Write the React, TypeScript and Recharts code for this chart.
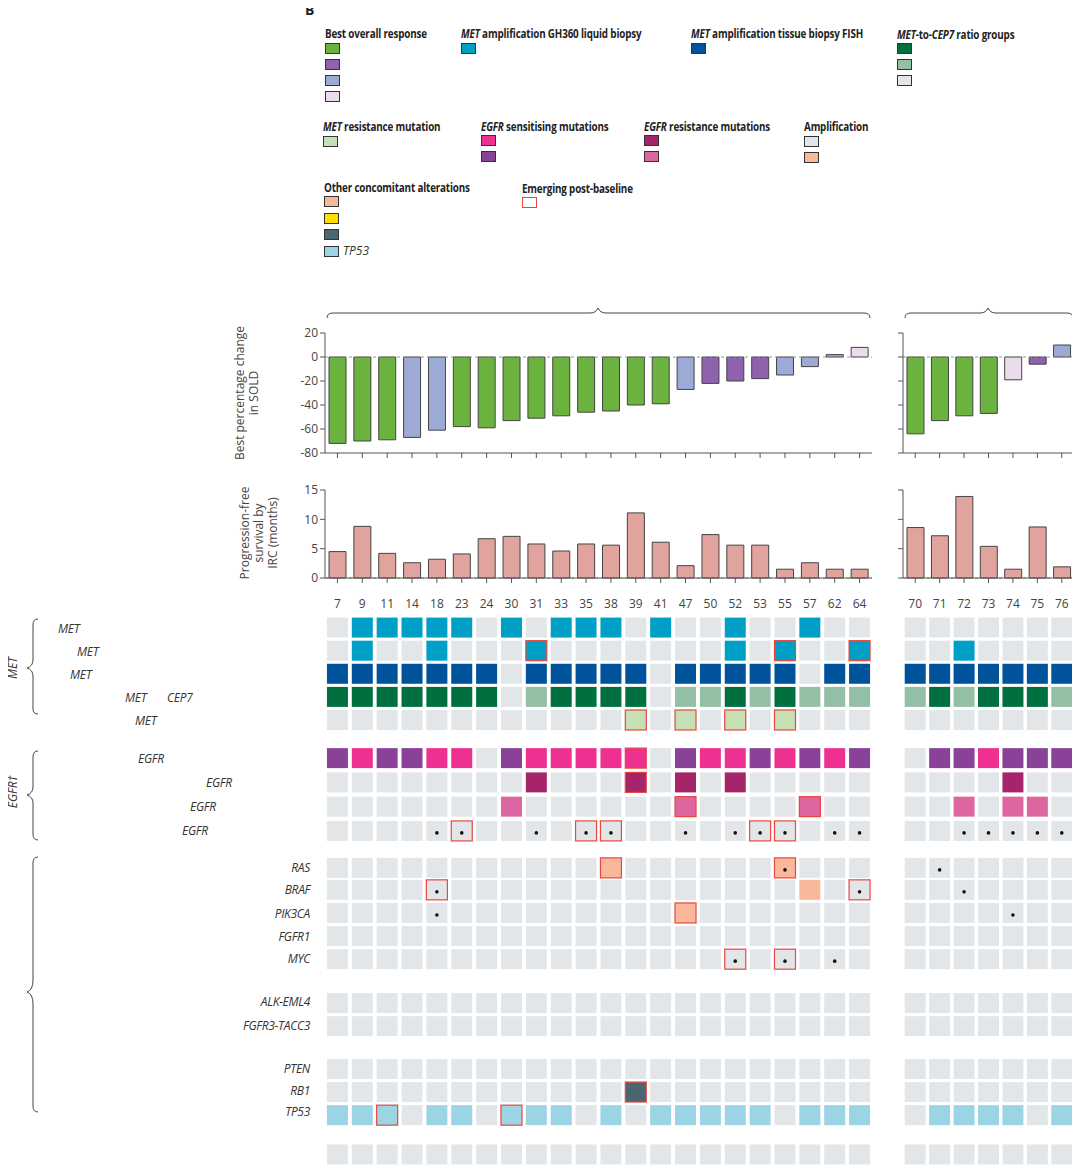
import React from 'react';
import { BarChart, Bar, XAxis, YAxis, Cell, ReferenceLine, ScatterChart, Scatter } from 'recharts';

const leftPatients = ['7','9','11','14','18','23','24','30','31','33','35','38','39','41','47','50','52','53','55','57','62','64'];
const rightPatients = ['70','71','72','73','74','75','76'];

const leftBest = [-72,-70,-69,-67,-61,-58,-59,-53,-51,-49,-46,-45,-40,-39,-27,-22,-20,-18,-15,-8,2,8];
const leftResp = ['g','g','g','b','b','g','g','g','g','g','g','g','g','g','b','p','p','p','b','b','b','w'];
const rightBest = [-64,-53,-49,-47,-19,-6,10];
const rightResp = ['g','g','g','g','w','p','b'];

const leftPfs = [4.5,8.8,4.2,2.6,3.2,4.1,6.7,7.1,5.8,4.6,5.8,5.6,11.1,6.1,2.1,7.4,5.6,5.6,1.5,2.6,1.5,1.5];
const rightPfs = [8.6,7.2,13.9,5.4,1.5,8.7,1.9];

const respColor: Record<string,string> = { g:'#6bb23f', p:'#8f62ad', b:'#9eaad6', w:'#eadcea' };

const rowPos = [0,1,2,3,4,5.65,6.7,7.75,8.8,10.4,11.35,12.35,13.35,14.35,16.25,17.25,19.1,20.1,21.1,22.8];
const leftRows = [
  '.aaaaa.a.aaa.a..a..a..',
  '.a..a...a.......a.a..a',
  'bbbbbbb.bbbbb.bbbbb.bb',
  'ggggggg.lgggg.llglglll',
  '............m.m.m.m...',
  'vpvvpp.vppppp.vppvpvpv',
  '........r...r.r.r.....',
  '.......s......s....s..',
  '......................',
  '...........o......o...',
  '...................o..',
  '..............o.......',
  '......................',
  '......................',
  '......................',
  '......................',
  '......................',
  '............d.........',
  'ttt.tt.ttt.t.ttttt.ttt',
  '......................',
];
const leftRed: number[][] = [[],[8,18,21],[],[],[12,14,16,18],[12],[12],[14,19],[5,10,11,17,18],[11,18],[4,21],[14],[],[16,18],[],[],[],[12],[2,7],[]];
const leftDots: number[][] = [[],[],[],[],[],[],[],[],[4,5,8,10,11,14,16,17,18,20,21],[18],[4,21],[4],[],[16,18,20],[],[],[],[],[],[]];
const rightRows = [
  '.......','..a....','bbbbbbb','lglgggl','.......','.vvpvvv','....r..','..s.ss.',
  '.......','.......','.......','.......','.......','.......','.......','.......','.......','.......','.tttt.t','.......',
];
const rightRed: number[][] = rightRows.map(() => []);
const rightDots: number[][] = [[],[],[],[],[],[],[],[],[2,3,4,5,6],[1],[2],[4],[],[],[],[],[],[],[],[]];

const cellColor: Record<string,string> = {
  '.':'#e3e6e9', a:'#00a0c6', b:'#00529b', g:'#00703f', l:'#93bfa5', m:'#c7dfb4',
  p:'#ee3190', v:'#8a4198', r:'#a6256a', s:'#dd65a0', o:'#f9b899', d:'#4b6672', t:'#9bd4e4',
};

const FONT = '"Open Sans", "Noto Sans", sans-serif';
const NARROW = '"Open Sans", sans-serif';

function buildCells(rows: string[], red: number[][], dots: number[][]) {
  const out: any[] = [];
  rows.forEach((r, ri) => {
    r.split('').forEach((c, ci) => {
      out.push({ x: ci, y: rowPos[ri], code: c, red: red[ri].includes(ci), dot: dots[ri].includes(ci) });
    });
  });
  return out;
}

const CellShape = (props: any) => {
  const { cx, cy, payload } = props;
  if (cx == null) return null;
  return (
    <g>
      <rect x={cx - 10.5} y={cy - 10} width={21} height={20} fill={cellColor[payload.code]}
        stroke={payload.red ? '#e8473f' : 'none'} strokeWidth={1.2} />
      {payload.dot && <circle cx={cx} cy={cy + 2} r={1.8} fill="#111" />}
    </g>
  );
};

function Heat({ patients, rows, red, dots, left, width }: any) {
  const data = buildCells(rows, red, dots);
  return (
    <div style={{ position: 'absolute', left, top: 596 }}>
      <ScatterChart width={width + 8} height={570} margin={{ top: 0, right: 8, left: 0, bottom: 0 }}>
        <XAxis type="number" dataKey="x" orientation="top" domain={[-0.5, patients.length - 0.5]}
          ticks={patients.map((_: any, i: number) => i)} tickFormatter={(v: number) => patients[v]}
          axisLine={false} tickLine={false} height={20} interval={0}
          tick={{ fontSize: 12, fill: '#444', fontFamily: FONT }} />
        <YAxis type="number" dataKey="y" domain={[-0.5, 23.3]} reversed hide />
        <Scatter data={data} shape={<CellShape />} isAnimationActive={false} />
      </ScatterChart>
    </div>
  );
}

function Bars({ patients, values, colors, left, width, yw, labels, top, height, domain, ticks, fill }: any) {
  const data = patients.map((p: string, i: number) => ({ p, v: values[i], c: colors ? colors[i] : fill }));
  return (
    <div style={{ position: 'absolute', left, top }}>
      <BarChart width={width} height={height} data={data} margin={{ top: 8, right: 0, left: 0, bottom: 0 }} barSize={17}>
        <XAxis dataKey="p" tickFormatter={() => ''} height={8} tickSize={5} stroke="#555" />
        <YAxis domain={domain} ticks={ticks} width={yw} stroke="#555" tickSize={5} interval={0}
          tickFormatter={labels ? undefined : () => ''}
          tick={{ fontSize: 12, fill: '#444', fontFamily: FONT }} />
        <ReferenceLine y={0} stroke="#8a9aa6" strokeDasharray="3 3" />
        <Bar dataKey="v" isAnimationActive={false} stroke="#444" strokeWidth={1}>
          {data.map((d: any, i: number) => <Cell key={i} fill={d.c} />)}
        </Bar>
      </BarChart>
    </div>
  );
}

const Sw = ({ x, y, c, border = '#333' }: any) => (
  <div style={{ position: 'absolute', left: x, top: y, width: 13, height: 9, background: c, border: `1px solid ${border}` }} />
);
const L = ({ x, y, children, italicPart }: any) => (
  <div style={{ position: 'absolute', left: x, top: y, fontSize: 12, fontWeight: 700, fontFamily: NARROW, color: '#222', whiteSpace: 'nowrap', transform: 'scaleX(0.82)', transformOrigin: 'left top', letterSpacing: '-0.2px' }}>
    {italicPart && <i>{italicPart}</i>}{children}
  </div>
);
const RL = ({ x, y, t, right }: any) => (
  <div style={{ position: 'absolute', left: right ? undefined : x, right: right ? 1080 - x : undefined, top: y - 8, fontSize: 12, fontStyle: 'italic', fontFamily: FONT, color: '#333', whiteSpace: 'nowrap', letterSpacing: '-0.3px' }}>{t}</div>
);

export default function App() {
  return (
    <div style={{ position: 'relative', width: 1080, height: 1176, margin: -8, background: '#fff', fontFamily: FONT, overflow: 'hidden' }}>
      <svg width={1080} height={1176} style={{ position: 'absolute', left: 0, top: 0 }} fill="none" stroke="#444" strokeWidth={1}>
        <text x={305} y={15} fill="#222" stroke="none" fontSize={14} fontWeight={700} fontFamily={NARROW}>B</text>
        <path d="M327 318 Q327 313 333 313 L590 313 Q596 313 598 308 Q600 313 606 313 L864 313 Q870 313 870 318" />
        <path d="M905 318 Q905 313 911 313 L980 313 Q986 313 988 308 Q990 313 996 313 L1067 313 Q1073 313 1073 318" />
        <path d="M38 619 Q33 619 33 625 L33 660 Q33 666 27 668 Q33 670 33 676 L33 709 Q33 714 38 714" />
        <path d="M38 751 Q33 751 33 757 L33 787 Q33 793 27 795 Q33 797 33 803 L33 834 Q33 840 38 840" />
        <path d="M38 857 Q33 857 33 863 L33 980 Q33 990 27 992 Q33 994 33 1004 L33 1106 Q33 1112 38 1112" />
      </svg>
      <L x={325} y={25}>Best overall response</L>
      {['#6bb23f','#8f62ad','#9eaad6','#eadcea'].map((c, i) => <Sw key={i} x={325} y={43 + i * 16} c={c} />)}
      <L x={461} y={25} italicPart="MET">{' amplification GH360 liquid biopsy'}</L>
      <Sw x={461} y={43} c="#00a0c6" />
      <L x={691} y={25} italicPart="MET">{' amplification tissue biopsy FISH'}</L>
      <Sw x={691} y={43} c="#00529b" />
      <L x={897} y={26} italicPart="MET">-to-<i>CEP7</i> ratio groups</L>
      {['#00703f','#93bfa5','#e3e6e9'].map((c, i) => <Sw key={i} x={897} y={43 + i * 16} c={c} />)}
      <L x={323} y={118} italicPart="MET">{' resistance mutation'}</L>
      <Sw x={323} y={136} c="#c7dfb4" />
      <L x={481} y={118} italicPart="EGFR">{' sensitising mutations'}</L>
      <Sw x={481} y={135} c="#ee3190" /><Sw x={481} y={151} c="#8a4198" />
      <L x={644} y={118} italicPart="EGFR">{' resistance mutations'}</L>
      <Sw x={644} y={135} c="#a6256a" /><Sw x={644} y={151} c="#dd65a0" />
      <L x={804} y={118}>Amplification</L>
      <Sw x={804} y={136} c="#e3e6e9" /><Sw x={804} y={152} c="#f9b899" />
      <L x={324} y={179}>Other concomitant alterations</L>
      {['#f9b899','#ffdd00','#4b6672','#9bd4e4'].map((c, i) => <Sw key={i} x={324} y={196 + i * 16.5} c={c} />)}
      <div style={{ position: 'absolute', left: 343, top: 242, fontSize: 12, fontStyle: 'italic', fontFamily: NARROW, color: '#333' }}>TP53</div>
      <L x={522} y={180}>Emerging post-baseline</L>
      <Sw x={522} y={197} c="#fff" border="#e8473f" />

      <div style={{ position: 'absolute', left: 12, top: 668, transform: 'translate(-50%,-50%) rotate(-90deg)', fontSize: 12, fontStyle: 'italic', color: '#333' }}>MET</div>
      <div style={{ position: 'absolute', left: 12, top: 792, transform: 'translate(-50%,-50%) rotate(-90deg)', fontSize: 12, fontStyle: 'italic', color: '#333', whiteSpace: 'nowrap' }}>EGFR†</div>

      <div style={{ position: 'absolute', left: 247, top: 393, transform: 'translate(-50%,-50%) rotate(-90deg)', fontSize: 12, color: '#444', textAlign: 'center', whiteSpace: 'nowrap', lineHeight: '14px' }}>Best percentage change<br />in SOLD</div>
      <div style={{ position: 'absolute', left: 259, top: 533, transform: 'translate(-50%,-50%) rotate(-90deg)', fontSize: 12, color: '#444', textAlign: 'center', whiteSpace: 'nowrap', lineHeight: '14px' }}>Progression-free<br />survival by<br />IRC (months)</div>

      <Bars patients={leftPatients} values={leftBest} colors={leftResp.map(r => respColor[r])} left={270} width={602} yw={55} labels top={325} height={136} domain={[-80, 20]} ticks={[-80,-60,-40,-20,0,20]} />
      <Bars patients={rightPatients} values={rightBest} colors={rightResp.map(r => respColor[r])} left={893} width={181} yw={10} labels={false} top={325} height={136} domain={[-80, 20]} ticks={[-80,-60,-40,-20,0,20]} />
      <Bars patients={leftPatients} values={leftPfs} fill="#e0a39d" left={270} width={602} yw={55} labels top={482} height={104} domain={[0, 15]} ticks={[0,5,10,15]} />
      <Bars patients={rightPatients} values={rightPfs} fill="#e0a39d" left={893} width={181} yw={10} labels={false} top={482} height={104} domain={[0, 15]} ticks={[0,5,10,15]} />

      <Heat patients={leftPatients} rows={leftRows} red={leftRed} dots={leftDots} left={325} width={547} />
      <Heat patients={rightPatients} rows={rightRows} red={rightRed} dots={rightDots} left={903} width={171} />

      <RL x={58} y={628} t="MET" /><RL x={77} y={651} t="MET" /><RL x={70} y={674} t="MET" />
      <RL x={125} y={697} t="MET" /><RL x={167} y={697} t="CEP7" /><RL x={135} y={720} t="MET" />
      <RL x={138} y={758} t="EGFR" /><RL x={206} y={782} t="EGFR" /><RL x={190} y={806} t="EGFR" /><RL x={182} y={830} t="EGFR" />
      {[['RAS',867],['BRAF',889],['PIK3CA',913],['FGFR1',936],['MYC',958],['ALK-EML4',1001],['FGFR3-TACC3',1025],['PTEN',1068],['RB1',1090],['TP53',1111]].map(([t, y]) => (
        <RL key={t as string} x={310} y={y} t={t} right />
      ))}
    </div>
  );
}
